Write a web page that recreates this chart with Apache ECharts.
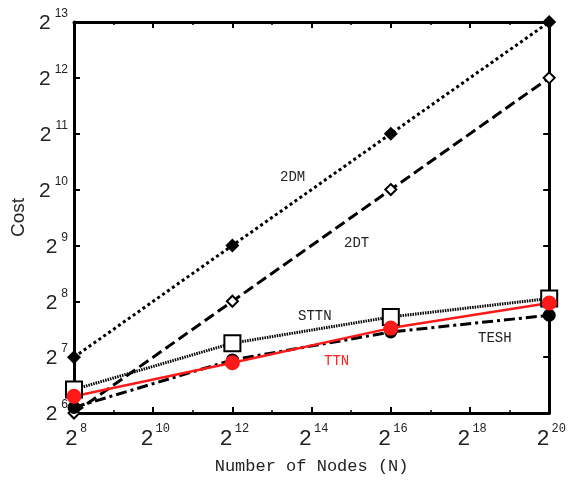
<!DOCTYPE html>
<html>
<head>
<meta charset="utf-8">
<script src="https://cdn.jsdelivr.net/npm/echarts@6/dist/echarts.min.js"></script>
<style>
  html, body { margin: 0; padding: 0; background: #fff; }
  #chart { width: 569px; height: 487px; }
</style>
</head>
<body>
<div id="chart"></div>
<script>
// x = log2(N), y = log2(cost)
var nodesExp = [8, 12, 16, 20];
var cost2DM = [7.0, 9.0, 11.0, 13.0];
var cost2DT = [6.0, 8.0, 10.0, 12.0];
var costTESH = [6.1, 6.95, 7.45, 7.75];
var costSTTN = [6.42, 7.25, 7.72, 8.05];
var costTTN = [6.3, 6.9, 7.52, 7.97];

var mono = '"Liberation Mono", "DejaVu Sans Mono", monospace';
var sans = '"Liberation Sans", Arial, sans-serif';

function pairs(ys) {
    return nodesExp.map(function (x, i) { return [x, ys[i]]; });
}

var chart = echarts.init(document.getElementById('chart'));

function frameAxis(extra) {
    var base = {
        type: 'value',
        axisLine: { show: true, lineStyle: { color: '#000', width: 3 } },
        axisTick: { show: true, inside: true, length: 6, lineStyle: { color: '#000', width: 2 } },
        splitLine: { show: false },
        axisLabel: { show: false }
    };
    for (var k in extra) base[k] = extra[k];
    return base;
}

chart.setOption({
    animation: false,
    backgroundColor: '#fff',
    grid: { left: 74, right: 12, top: 22, bottom: 74 },
    xAxis: [
        frameAxis({
            min: 8, max: 20, interval: 2,
            minorTick: { show: true, splitNumber: 2, length: 3, lineStyle: { color: '#000', width: 1.5 } },
            name: 'Number of Nodes (N)',
            nameLocation: 'middle',
            nameGap: 45,
            nameTextStyle: { fontFamily: mono, fontSize: 17, color: '#222' },
            axisLabel: {
                show: true,
                margin: 10,
                formatter: function (v) { return '{b|2}{s|' + v + '}'; },
                rich: {
                    b: { fontFamily: mono, fontSize: 22, color: '#222', padding: [0, 0, 0, 4] },
                    s: { fontFamily: mono, fontSize: 12, color: '#222', padding: [0, 0, 20, 2] }
                }
            }
        }),
        frameAxis({
            position: 'top', min: 8, max: 20, interval: 2,
            minorTick: { show: true, splitNumber: 2, length: 3, lineStyle: { color: '#000', width: 1.5 } }
        })
    ],
    yAxis: [
        frameAxis({
            min: 6, max: 13, interval: 1,
            name: 'Cost',
            nameLocation: 'middle',
            nameGap: 44,
            nameTextStyle: { fontFamily: sans, fontSize: 19, color: '#222' },
            axisLabel: {
                show: true,
                margin: 6,
                formatter: function (v) { return '{b|2}{s|' + v + '}'; },
                rich: {
                    b: { fontFamily: sans, fontSize: 21, color: '#222', padding: [3, 0, 0, 0] },
                    s: { fontFamily: sans, fontSize: 12, color: '#222', padding: [0, 0, 16, 4] }
                }
            }
        }),
        frameAxis({ position: 'right', min: 6, max: 13, interval: 1 })
    ],
    graphic: [
        { type: 'text', left: 280, top: 170, style: { text: '2DM', font: '14px ' + mono, fill: '#222' } },
        { type: 'text', left: 344, top: 236, style: { text: '2DT', font: '14px ' + mono, fill: '#222' } },
        { type: 'text', left: 298, top: 309, style: { text: 'STTN', font: '14px ' + mono, fill: '#222' } },
        { type: 'text', left: 324, top: 354, style: { text: 'TTN', font: '14px ' + mono, fill: '#ff2020' } },
        { type: 'text', left: 478, top: 331, style: { text: 'TESH', font: '14px ' + mono, fill: '#222' } }
    ],
    series: [
        {
            name: '2DM', type: 'line', data: pairs(cost2DM),
            symbol: 'diamond', symbolSize: 14,
            itemStyle: { color: '#000' },
            lineStyle: { color: '#000', width: 3, type: [3, 3], cap: 'butt' }
        },
        {
            name: '2DT', type: 'line', data: pairs(cost2DT),
            symbol: 'emptyDiamond', symbolSize: 11,
            itemStyle: { color: '#000', borderWidth: 2 },
            lineStyle: { color: '#000', width: 3, type: [11, 5] }
        },
        {
            name: 'TESH', type: 'line', data: pairs(costTESH),
            symbol: 'circle', symbolSize: 13,
            itemStyle: { color: '#000' },
            lineStyle: { color: '#000', width: 3, type: [11, 4, 3, 4] }
        },
        {
            name: 'STTN', type: 'line', data: pairs(costSTTN),
            symbol: 'rect', symbolSize: 16,
            itemStyle: { color: '#fff', borderColor: '#000', borderWidth: 2 },
            lineStyle: { color: '#000', width: 3, type: [1.5, 1] }
        },
        {
            name: 'TTN', type: 'line', data: pairs(costTTN),
            symbol: 'circle', symbolSize: 13,
            itemStyle: { color: '#ff1a1a', borderColor: '#ff1a1a', borderWidth: 2 },
            lineStyle: { color: '#ff1a1a', width: 2.5 }
        }
    ]
});
</script>
</body>
</html>
